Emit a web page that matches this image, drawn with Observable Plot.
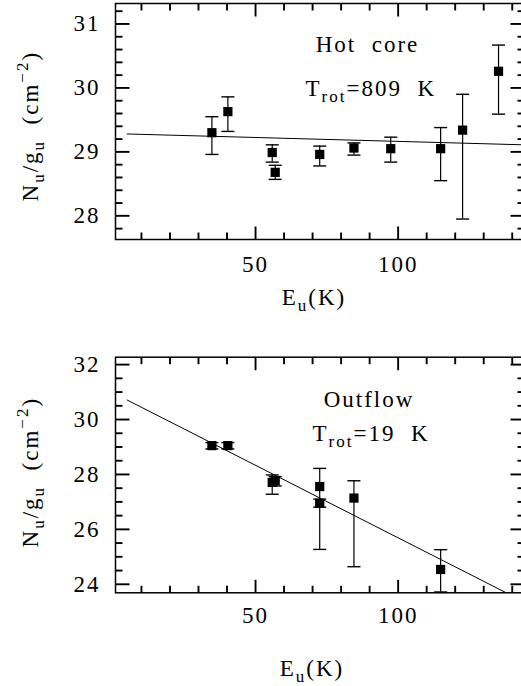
<!DOCTYPE html>
<html><head><meta charset="utf-8">
<script src="https://cdn.jsdelivr.net/npm/d3@7"></script>
<script src="https://cdn.jsdelivr.net/npm/@observablehq/plot@0.6"></script>
<style>
html,body{margin:0;padding:0;background:#fff;overflow:hidden;}
#chart{width:524px;}
#chart svg{display:block;max-width:none;}
#chart text{font-family:"Liberation Serif","DejaVu Serif",serif;}
</style></head><body><div id="chart"></div>
<script>
// ---- Hot core panel data ----
const hotE  = [34.7, 40.3, 55.85, 56.9, 72.5, 84.5, 97.4, 114.9, 122.6, 135.2];
const hotY  = [29.30, 29.63, 28.99, 28.68, 28.96, 29.06, 29.05, 29.05, 29.34, 30.26];
const hotLo = [28.96, 29.32, 28.84, 28.57, 28.78, 28.95, 28.84, 28.55, 27.95, 29.59];
const hotHi = [29.55, 29.86, 29.11, 28.79, 29.09, 29.14, 29.23, 29.38, 29.90, 30.67];
const hotFitE = [5, 144.3];
const hotFitY = [29.28, 29.11];
// ---- Outflow panel data ----
const outE  = [34.7, 40.3, 55.85, 56.9, 72.5, 72.5, 84.5, 114.9];
const outY  = [29.05, 29.05, 27.71, 27.77, 27.56, 26.95, 27.14, 24.54];
const outLo = [28.93, 28.93, 27.28, 27.58, 25.27, 26.81, 24.64, 23.72];
const outHi = [29.16, 29.16, 27.98, 27.92, 28.22, 27.10, 27.77, 25.26];
const outFitE = [5, 137.9];
const outFitY = [30.71, 23.69];
// ---- Ticks / labels ----
const xMajor = [50, 100];
const xMinor = [10, 20, 30, 40, 60, 70, 80, 90, 110, 120, 130, 140];
const hotYMajor = [28, 29, 30, 31];
const hotYMinor = [27.8, 28.2, 28.4, 28.6, 28.8, 29.2, 29.4, 29.6, 29.8, 30.2, 30.4, 30.6, 30.8, 31.2];
const outYMajor = [24, 26, 28, 30, 32];
const outYMinor = [24.5, 25, 25.5, 26.5, 27, 27.5, 28.5, 29, 29.5, 30.5, 31, 31.5];
const xLabel = "E_{u}(K)";
const yLabel = "N_{u}/g_{u}  (cm^{\u22122})";
const hotTitle = "Hot  core", hotTrot = "T_{rot}=809  K";
const outTitle = "Outflow", outTrot = "T_{rot}=19  K";

const W = 524, ML = 115, MR = 0, XDOM = [0.9, 144.3];
const FONT = "'Liberation Serif','DejaVu Serif',serif";
const capSymbol = {draw(ctx){ ctx.moveTo(-6.5, 0); ctx.lineTo(6.5, 0); }};

function rich(svg){
  svg.querySelectorAll("text").forEach(t => {
    const s = t.textContent;
    if (!/[_^]\{/.test(s)) return;
    t.textContent = "";
    const parts = s.split(/([_^]\{[^}]*\})/).filter(p => p.length);
    let shift = 0;
    for (const p of parts) {
      const ts = document.createElementNS("http://www.w3.org/2000/svg", "tspan");
      let target = 0, txt = p, small = false;
      if (p.startsWith("_{")) { target = 6; txt = p.slice(2, -1); small = true; }
      else if (p.startsWith("^{")) { target = -10; txt = p.slice(2, -1); small = true; }
      ts.setAttribute("dy", target - shift);
      shift = target;
      if (small) ts.setAttribute("font-size", "17px");
      ts.textContent = txt;
      t.appendChild(ts);
    }
  });
}

function panel(o){
  const pts = o.E.map((e, i) => ({E: e, y: o.Y[i], lo: o.lo[i], hi: o.hi[i]}));
  const fit = o.fitE.map((e, i) => ({E: e, y: o.fitY[i]}));
  const [y0, y1] = o.yDomain;
  const ph = o.height - o.marginTop - o.marginBottom, pw = W - ML - MR;
  const uy = (y1 - y0) / ph, ux = (XDOM[1] - XDOM[0]) / pw; // data units per pixel
  const vt = [];
  for (const v of xMajor) { vt.push({x: v, a: y0, b: y0 + 13 * uy}); vt.push({x: v, a: y1, b: y1 - 13 * uy}); }
  for (const v of xMinor) { vt.push({x: v, a: y0, b: y0 + 7 * uy}); vt.push({x: v, a: y1, b: y1 - 7 * uy}); }
  const ht = [];
  for (const v of o.yMajor) { ht.push({y: v, a: XDOM[0], b: XDOM[0] + 14 * ux}); ht.push({y: v, a: XDOM[1], b: XDOM[1] - 14 * ux}); }
  for (const v of o.yMinor) { ht.push({y: v, a: XDOM[0], b: XDOM[0] + 7 * ux}); ht.push({y: v, a: XDOM[1], b: XDOM[1] - 7 * ux}); }
  const svg = Plot.plot({
    width: W, height: o.height,
    marginLeft: ML, marginRight: MR, marginTop: o.marginTop, marginBottom: o.marginBottom,
    x: {domain: XDOM},
    y: {domain: o.yDomain},
    style: {fontFamily: FONT, fontSize: "23px", color: "#000", background: "#fff", letterSpacing: "2px"},
    marks: [
      Plot.frame({stroke: "#000", strokeWidth: 1.5}),
      // tick labels
      Plot.axisX(xMajor, {tickSize: 0, tickPadding: o.xPad, label: null, tickFormat: d => String(d), fontFamily: FONT}),
      Plot.axisY(o.yMajor, {tickSize: 0, tickPadding: 15, label: null, tickFormat: d => String(d), fontFamily: FONT}),
      // fit line
      Plot.line(fit, {x: "E", y: "y", stroke: "#000", strokeWidth: 1, clip: true}),
      // error bars
      Plot.ruleX(pts, {x: "E", y1: "lo", y2: "hi", stroke: "#000", strokeWidth: 1.2}),
      Plot.dot(pts, {x: "E", y: "lo", symbol: capSymbol, stroke: "#000", fill: "none", strokeWidth: 1.4}),
      Plot.dot(pts, {x: "E", y: "hi", symbol: capSymbol, stroke: "#000", fill: "none", strokeWidth: 1.4}),
      // points
      Plot.dot(pts, {x: "E", y: "y", symbol: "square", r: 5.2, fill: "#000", stroke: "none"}),
      // annotations
      Plot.text([o.title], {text: d => d, frameAnchor: "top", textAnchor: "middle", lineAnchor: "bottom", dx: o.titleDx, dy: o.titleDy, fontFamily: FONT}),
      Plot.text([o.trot], {text: d => d, frameAnchor: "top-left", textAnchor: "start", lineAnchor: "bottom", dx: o.trotDx, dy: o.trotDy, fontFamily: FONT}),
      // axis labels
      Plot.text([xLabel], {text: d => d, frameAnchor: "bottom", textAnchor: "middle", lineAnchor: "bottom", dx: o.xlabDx, dy: o.xlabDy, fontFamily: FONT}),
      Plot.text([yLabel], {text: d => d, frameAnchor: "left", textAnchor: "middle", lineAnchor: "bottom", rotate: -90, dx: -78, dy: o.ylabDy, fontFamily: FONT}),
      // inward frame ticks (drawn last)
      Plot.link(vt, {x1: "x", x2: "x", y1: "a", y2: "b", stroke: "#000", strokeWidth: 1.9}),
      Plot.link(ht, {y1: "y", y2: "y", x1: "a", x2: "b", stroke: "#000", strokeWidth: 1.9})
    ]
  });
  rich(svg);
  return svg;
}

const chart = document.getElementById("chart");
chart.appendChild(panel({
  E: hotE, Y: hotY, lo: hotLo, hi: hotHi, fitE: hotFitE, fitY: hotFitY,
  yDomain: [27.63, 31.32], yMajor: hotYMajor, yMinor: hotYMinor,
  height: 340, marginTop: 3, marginBottom: 101, xPad: 16,
  title: hotTitle, trot: hotTrot, titleDx: 47.5, titleDy: 48, trotDx: 190, trotDy: 92,
  xlabDx: -6, xlabDy: 65, ylabDy: 4.7
}));
chart.appendChild(panel({
  E: outE, Y: outY, lo: outLo, hi: outHi, fitE: outFitE, fitY: outFitY,
  yDomain: [23.69, 32.27], yMajor: outYMajor, yMinor: outYMinor,
  height: 346, marginTop: 16.7, marginBottom: 93.7, xPad: 14,
  title: outTitle, trot: outTrot, titleDx: 49, titleDy: 50, trotDx: 197, trotDy: 83.3,
  xlabDx: -8, xlabDy: 82.7, ylabDy: -2.8
}));
</script></body></html>
